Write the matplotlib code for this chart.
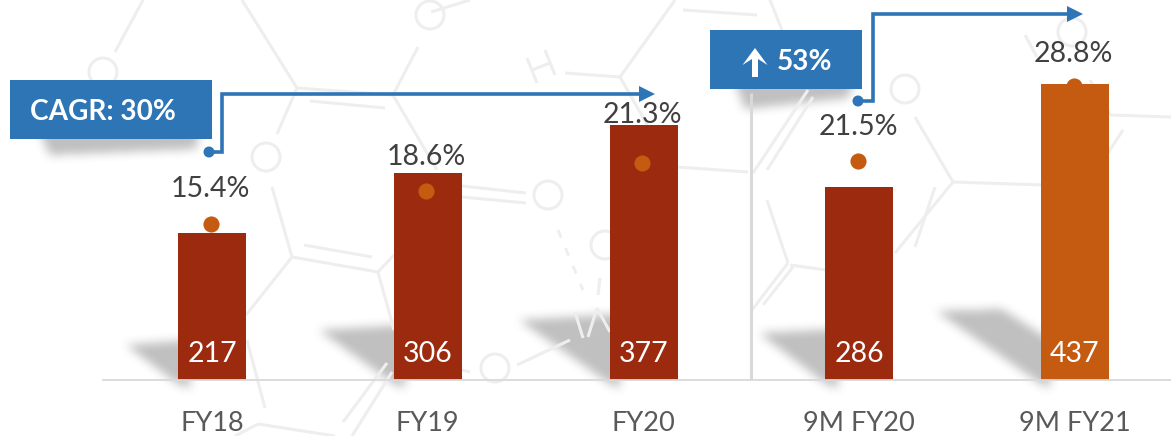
import numpy as np
import matplotlib
matplotlib.use("Agg")
import matplotlib.pyplot as plt
from matplotlib.path import Path
from matplotlib.patches import Circle, Polygon, Rectangle

plt.rcParams['font.family'] = ['Lato', 'DejaVu Sans']

W, H = 1171, 436

# chart values
categories = ["FY18", "FY19", "FY20", "9M FY20", "9M FY21"]
revenue = [217, 306, 377, 286, 437]
margin = [15.4, 18.6, 21.3, 21.5, 28.8]
margin_labels = ["15.4%", "18.6%", "21.3%", "21.5%", "28.8%"]
bar_colors = ["#9C2A0F", "#9C2A0F", "#9C2A0F", "#9C2A0F", "#C55A11"]
label_gaps = [35, 34, 48, 34, 32]

BLUE = "#2E75B6"
GREY = "#EEEEEE"

# faint molecule drawing behind the chart (pixel coordinates)
bonds = [
    [(143, 0), (115, 52)], [(242, 0), (297, 88)], [(297, 88), (393, 95)],
    [(310, 101), (385, 108)], [(297, 88), (277, 134)], [(272, 187), (292, 257)],
    [(292, 257), (378, 272)], [(304, 245), (372, 257)], [(378, 272), (394, 330)],
    [(378, 272), (394, 255)], [(292, 257), (246, 315)], [(247, 340), (265, 408)],
    [(258, 424), (335, 436)], [(343, 422), (387, 363)], [(352, 436), (392, 372)],
    [(258, 424), (235, 436)], [(393, 95), (418, 47)], [(393, 95), (437, 170)],
    [(462, 186), (526, 193)], [(462, 197), (526, 203)], [(527, 58), (537, 83)],
    [(545, 50), (555, 75)], [(532, 70), (550, 63)], [(565, 73), (620, 77)],
    [(620, 77), (675, 0)], [(620, 77), (650, 130)], [(677, 167), (748, 172)],
    [(683, 10), (757, 15)], [(770, 0), (782, 30)], [(753, 173), (808, 90)],
    [(767, 170), (813, 97)], [(915, 117), (953, 182)], [(953, 182), (1043, 185)],
    [(1110, 115), (1171, 117)], [(1110, 115), (1090, 80)], [(1123, 130), (1108, 153)],
    [(1025, 35), (1037, 57)], [(788, 263), (767, 200)], [(788, 263), (752, 310)],
    [(793, 267), (763, 305)], [(790, 265), (826, 270)], [(953, 182), (895, 253)],
    [(935, 187), (915, 247)], [(600, 278), (598, 295)], [(517, 365), (570, 340)],
    [(575, 312), (583, 338)], [(588, 337), (597, 308)], [(597, 308), (610, 332)],
    [(462, 370), (470, 372)], [(431, 12), (470, 0)],
]
rings = [(103, 72), (266, 157), (430, 15), (548, 195), (905, 89), (1072, 32), (605, 245), (495, 368)]

# soft grey shadows (pixel coordinates)
shadows = [
    [(126, 345), (190, 340), (190, 388), (178, 384)],
    [(319, 330), (405, 325), (405, 388), (394, 384)],
    [(519, 320), (620, 314), (620, 388), (610, 384)],
    [(759, 333), (838, 329), (838, 388), (826, 384)],
    [(936, 311), (1002, 309), (1050, 340), (1050, 388), (1041, 384)],
    [(38, 130), (200, 130), (196, 150), (50, 156)],
    [(734, 80), (855, 80), (848, 99), (745, 110)],
]


def shadow_image():
    yy, xx = np.mgrid[0:H, 0:W]
    pts = np.column_stack([xx.ravel() + 0.5, yy.ravel() + 0.5])
    mask = np.zeros((H, W))
    for poly in shadows:
        mask += Path(poly).contains_points(pts).reshape(H, W)
    # box blur
    k = np.ones(11) / 11
    for _ in range(2):
        mask = np.apply_along_axis(lambda r: np.convolve(r, k, mode='same'), 0, mask)
        mask = np.apply_along_axis(lambda r: np.convolve(r, k, mode='same'), 1, mask)
    img = np.zeros((H, W, 4))
    img[..., :3] = 0.45
    img[..., 3] = np.clip(mask, 0, 1) * 0.45
    return img


fig = plt.figure(figsize=(W / 100, H / 100), dpi=100, facecolor="white")

# background layer in pixels
bg = fig.add_axes([0, 0, 1, 1], zorder=0)
bg.axis("off")
for (x0, y0), (x1, y1) in bonds:
    bg.plot([x0, x1], [y0, y1], color=GREY, lw=2.2, solid_capstyle="butt")
for cx, cy in rings:
    bg.add_patch(Circle((cx, cy), 14, fill=False, ec=GREY, lw=2.2))
bg.plot([558, 583], [230, 290], color=GREY, lw=2.0, ls=(0, (3, 4)))
bg.imshow(shadow_image(), extent=(0, W, H, 0), aspect="auto", interpolation="nearest")
bg.plot([751, 751], [93, 380], color="#D9D9D9", lw=2.2, solid_capstyle="butt")
bg.set_xlim(0, W)
bg.set_ylim(H, 0)

# bars
ax = fig.add_axes([103 / W, (H - 380) / H, (W - 103) / W, 380 / H], zorder=1)
ax.patch.set_alpha(0)
x = np.arange(len(categories))
ax.bar(x, revenue, width=68 / 215.75, color=bar_colors, zorder=2)
ax.set_xlim((103 - 212) / 215.75, (W - 212) / 215.75)
ax.set_ylim(0, 380 / 0.6765)
ax.set_yticks([])
ax.set_xticks(x)
ax.set_xticklabels(categories, fontsize=19.5, color="#595959")
ax.tick_params(axis="x", length=0, pad=22.5)
for s in ["top", "left", "right"]:
    ax.spines[s].set_visible(False)
ax.spines["bottom"].set_color("#D9D9D9")
ax.spines["bottom"].set_linewidth(1.3)
for i, v in enumerate(revenue):
    ax.annotate(str(v), (i, 0), xytext=(0, 26.5 * 0.72), textcoords="offset points",
                ha="center", va="center", color="white", fontsize=20.5)

# margin dots on their own scale
ax2 = ax.twinx()
ax2.patch.set_alpha(0)
ax2.set_ylim(15.4 - 156 / 10.3, 15.4 + 224 / 10.3)
ax2.set_yticks([])
for s in ax2.spines.values():
    s.set_visible(False)
dot_x = x - 0.006
ax2.scatter(dot_x[:4], margin[:4], s=135, color="#C55A11", linewidths=0, zorder=3)
ax.scatter([dot_x[4]], [(margin[4] - (15.4 - 156 / 10.3)) * 10.3 / 0.6765], s=135, color="#C55A11",
           linewidths=0, zorder=1)
for i, m in enumerate(margin):
    ax2.annotate(margin_labels[i], (dot_x[i], m), xytext=(0, label_gaps[i] * 0.72), textcoords="offset points",
                 ha="center", va="center", color="#404040", fontsize=20.5)

# callouts in pixels
top = fig.add_axes([0, 0, 1, 1], zorder=2)
top.patch.set_alpha(0)
top.set_xlim(0, W)
top.set_ylim(H, 0)
top.axis("off")
top.add_patch(Rectangle((10, 80), 202, 59, color=BLUE, lw=0))
top.add_patch(Rectangle((710, 30), 152, 59, color=BLUE, lw=0))
top.text(30, 112, "CAGR: 30%", color="white", fontsize=20.2, fontweight="bold", va="center")
top.text(777, 62, "53%", color="white", fontsize=20.2, fontweight="bold", va="center")
top.add_patch(Polygon([(755, 48), (767.5, 65), (758, 59), (758, 77), (752, 77), (752, 59), (742.5, 65)],
                      color="white", lw=0))


def connector(xs, ys):
    top.plot(xs[:-1] + [xs[-1] - 14], ys, color=BLUE, lw=2.6, solid_joinstyle="miter", solid_capstyle="butt")
    top.add_patch(Polygon([(xs[-1], ys[-1]), (xs[-1] - 16, ys[-1] - 8), (xs[-1] - 16, ys[-1] + 8)],
                          color=BLUE, lw=0))
    top.add_patch(Circle((xs[0], ys[0]), 5.5, color=BLUE, lw=0))


connector([209, 222, 222, 655], [152, 152, 94, 94])
connector([858, 873, 873, 1083], [101, 101, 14, 14])

fig.savefig("out.png", dpi=100)
